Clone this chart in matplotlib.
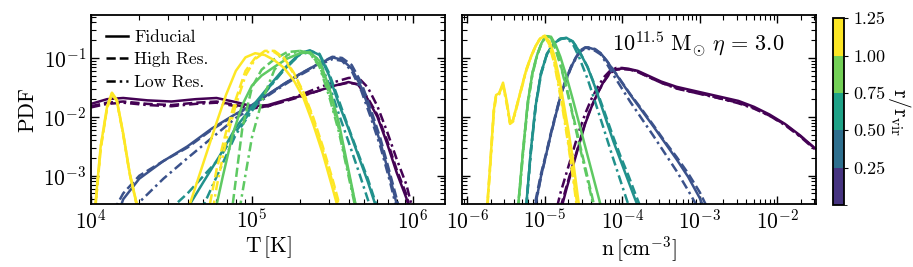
import numpy as np
import matplotlib
matplotlib.use("Agg")
import matplotlib.pyplot as plt
from matplotlib.colors import ListedColormap, BoundaryNorm
from matplotlib.cm import ScalarMappable
from matplotlib.lines import Line2D

plt.rcParams['font.family'] = 'serif'
plt.rcParams['font.serif'] = ['cmr10']
plt.rcParams['mathtext.fontset'] = 'cm'
plt.rcParams['axes.formatter.use_mathtext'] = True
plt.rcParams['axes.linewidth'] = 1.3

# r / r_vir of each shell
radii = [0.25, 0.5, 0.75, 1.0, 1.25]
cbar_bounds = [0.0, 0.25, 0.5, 0.75, 1.0, 1.25]
cbar_ticks = [0.25, 0.5, 0.75, 1.0, 1.25]

# ---- temperature PDFs (log10 T, log10 PDF) ----
logT_1 = [4.0, 4.1, 4.2, 4.35, 4.5, 4.65, 4.78, 4.9, 5.0, 5.1, 5.2, 5.3, 5.4, 5.5,
          5.6, 5.66, 5.72, 5.78, 5.84, 5.9, 5.96, 6.02]
pT_1_fid = [-1.78, -1.70, -1.68, -1.72, -1.74, -1.70, -1.68, -1.75, -1.82, -1.80, -1.72,
            -1.65, -1.57, -1.48, -1.41, -1.45, -1.70, -2.0, -2.45, -2.95, -3.38, -4.0]
pT_1_hi = [-1.82, -1.76, -1.74, -1.78, -1.80, -1.76, -1.74, -1.80, -1.85, -1.82, -1.74,
           -1.66, -1.57, -1.48, -1.42, -1.45, -1.68, -1.97, -2.40, -2.90, -3.32, -4.0]
pT_1_lo = [-1.84, -1.78, -1.76, -1.80, -1.82, -1.78, -1.76, -1.82, -1.86, -1.82, -1.73,
           -1.63, -1.52, -1.42, -1.34, -1.33, -1.50, -1.82, -2.25, -2.72, -3.15, -3.8]

logT_2 = [4.1, 4.2, 4.3, 4.45, 4.6, 4.75, 4.9, 5.0, 5.1, 5.2, 5.3, 5.4, 5.5, 5.56,
          5.62, 5.68, 5.74, 5.8, 5.86, 5.92]
pT_2_fid = [-4.2, -3.40, -3.05, -2.75, -2.50, -2.20, -1.95, -1.80, -1.62, -1.44, -1.27,
            -1.12, -0.99, -1.03, -1.18, -1.50, -1.95, -2.45, -3.05, -3.7]
pT_2_hi = [-3.8, -3.30, -3.0, -2.75, -2.52, -2.22, -1.96, -1.81, -1.62, -1.44, -1.27,
           -1.12, -0.98, -1.0, -1.12, -1.42, -1.88, -2.38, -2.98, -3.6]
pT_2_lo = [-4.5, -3.9, -3.45, -3.05, -2.70, -2.36, -2.02, -1.85, -1.64, -1.46, -1.29,
           -1.14, -1.02, -1.05, -1.22, -1.56, -2.02, -2.52, -3.12, -3.8]

logT_3 = [4.4, 4.5, 4.6, 4.7, 4.8, 4.9, 5.0, 5.1, 5.2, 5.3, 5.36, 5.42, 5.48, 5.54,
          5.6, 5.66, 5.72, 5.78, 5.84]
pT_3_fid = [-4.5, -4.0, -3.55, -3.1, -2.66, -2.18, -1.83, -1.50, -1.18, -0.92, -0.87,
            -0.95, -1.30, -1.78, -2.20, -2.65, -3.10, -3.60, -4.2]
pT_3_hi = [-4.0, -3.55, -3.3, -3.0, -2.7, -2.25, -1.88, -1.52, -1.2, -0.93, -0.88,
           -0.93, -1.26, -1.72, -2.18, -2.62, -3.05, -3.55, -4.1]
pT_3_lo = [-5.0, -4.5, -4.0, -3.5, -2.9, -2.3, -1.9, -1.53, -1.2, -0.94, -0.90,
           -1.05, -1.45, -1.95, -2.42, -2.90, -3.40, -3.90, -4.5]

logT_4 = [4.7, 4.76, 4.82, 4.88, 4.94, 5.0, 5.06, 5.14, 5.22, 5.3, 5.36, 5.42, 5.48,
          5.54, 5.6, 5.66, 5.72]
pT_4_fid = [-4.5, -3.75, -3.0, -2.3, -1.8, -1.47, -1.30, -1.15, -1.01, -0.92, -0.90,
            -1.05, -1.5, -2.1, -2.9, -3.7, -4.5]
pT_4_hi = [-5.5, -5.0, -4.3, -3.5, -2.2, -1.5, -1.2, -1.02, -0.9, -0.88, -0.92,
           -1.12, -1.6, -2.2, -2.95, -3.7, -4.5]
pT_4_lo = [-6.0, -5.5, -5.0, -4.3, -3.3, -2.35, -1.75, -1.2, -0.95, -0.88, -0.92,
           -1.15, -1.65, -2.25, -3.0, -3.75, -4.5]

logT_5 = [4.0, 4.03, 4.06, 4.1, 4.13, 4.16, 4.2, 4.24, 4.29, 4.35, 4.5, 4.6, 4.66,
          4.72, 4.78, 4.84, 4.9, 4.96, 5.02, 5.08, 5.14, 5.2, 5.26, 5.32, 5.38, 5.44,
          5.5, 5.56]
pT_5_fid = [-4.5, -3.4, -2.5, -1.82, -1.59, -1.71, -2.28, -2.95, -3.55, -5.0, -5.0,
            -3.6, -3.1, -2.6, -2.1, -1.62, -1.22, -0.99, -0.92, -0.95, -1.04, -1.17,
            -1.38, -1.68, -2.12, -2.62, -3.2, -3.8]
pT_5_hi = [-4.5, -3.45, -2.55, -1.85, -1.62, -1.73, -2.30, -2.97, -3.57, -5.0, -5.0,
           -5.0, -4.5, -3.75, -2.9, -2.25, -1.7, -1.22, -1.0, -0.88, -0.88, -1.0,
           -1.25, -1.58, -2.0, -2.5, -3.05, -3.65]
pT_5_lo = [-4.5, -3.45, -2.52, -1.84, -1.60, -1.72, -2.30, -2.96, -3.56, -5.0, -5.0,
           -5.5, -5.0, -4.2, -3.2, -2.4, -1.8, -1.3, -1.02, -0.9, -0.9, -1.02,
           -1.27, -1.6, -2.03, -2.55, -3.1, -3.7]

# ---- density PDFs (log10 n, log10 PDF) ----
logn_1 = [-4.90, -4.80, -4.72, -4.64, -4.56, -4.48, -4.40, -4.32, -4.24, -4.16, -4.08,
          -4.0, -3.9, -3.8, -3.65, -3.5, -3.3, -3.1, -2.9, -2.7, -2.5, -2.3, -2.1,
          -1.9, -1.7, -1.5]
pn_1_fid = [-4.3, -3.62, -3.22, -2.85, -2.48, -2.12, -1.84, -1.6, -1.40, -1.25, -1.19,
            -1.18, -1.19, -1.22, -1.31, -1.40, -1.49, -1.55, -1.61, -1.67, -1.73,
            -1.83, -1.96, -2.12, -2.32, -2.55]
pn_1_hi = [-4.2, -3.55, -3.18, -2.82, -2.46, -2.10, -1.83, -1.6, -1.41, -1.26, -1.20,
           -1.19, -1.20, -1.24, -1.33, -1.42, -1.51, -1.58, -1.63, -1.70, -1.76,
           -1.85, -1.98, -2.13, -2.33, -2.55]
pn_1_lo = [-3.85, -3.3, -2.95, -2.6, -2.25, -1.95, -1.7, -1.5, -1.33, -1.22, -1.17,
           -1.17, -1.19, -1.23, -1.33, -1.42, -1.52, -1.58, -1.64, -1.70, -1.77,
           -1.86, -1.98, -2.14, -2.34, -2.57]

logn_2 = [-5.20, -5.12, -5.05, -4.98, -4.92, -4.85, -4.79, -4.72, -4.66, -4.60, -4.54,
          -4.48, -4.42, -4.35, -4.28, -4.20, -4.10, -4.0, -3.9, -3.75, -3.6, -3.45,
          -3.3, -3.15, -3.0, -2.9, -2.8]
pn_2_fid = [-4.2, -3.48, -3.01, -2.62, -2.28, -1.92, -1.60, -1.35, -1.15, -1.0, -0.88,
            -0.83, -0.83, -0.86, -0.92, -1.05, -1.24, -1.43, -1.62, -1.89, -2.16,
            -2.44, -2.72, -3.02, -3.38, -3.7, -4.1]
pn_2_hi = [-4.1, -3.42, -2.97, -2.60, -2.26, -1.90, -1.59, -1.34, -1.14, -0.99, -0.87,
           -0.82, -0.82, -0.85, -0.92, -1.05, -1.23, -1.42, -1.61, -1.87, -2.14,
           -2.42, -2.68, -2.96, -3.28, -3.55, -3.9]
pn_2_lo = [-4.2, -3.5, -3.02, -2.63, -2.29, -1.93, -1.61, -1.36, -1.16, -1.01, -0.89,
           -0.84, -0.85, -0.88, -0.94, -1.1, -1.32, -1.53, -1.74, -2.03, -2.32,
           -2.62, -2.92, -3.25, -3.6, -3.95, -4.3]

logn_3 = [-5.30, -5.24, -5.18, -5.12, -5.05, -4.97, -4.88, -4.80, -4.72, -4.64, -4.56,
          -4.45, -4.35, -4.24, -4.12, -4.02, -3.92, -3.84, -3.76, -3.68]
pn_3_fid = [-4.2, -3.5, -2.56, -1.82, -1.26, -0.92, -0.75, -0.68, -0.66, -0.72, -0.88,
            -1.15, -1.5, -1.93, -2.4, -2.75, -3.1, -3.38, -3.65, -4.0]
pn_3_hi = [-4.2, -3.5, -2.56, -1.82, -1.26, -0.92, -0.75, -0.68, -0.66, -0.72, -0.87,
           -1.15, -1.48, -1.88, -2.33, -2.68, -3.0, -3.28, -3.55, -3.9]
pn_3_lo = [-4.3, -3.55, -2.6, -1.85, -1.28, -0.93, -0.75, -0.67, -0.66, -0.76, -0.98,
           -1.35, -1.75, -2.2, -2.7, -3.1, -3.5, -3.85, -4.2, -4.6]

logn_4 = [-5.40, -5.34, -5.28, -5.22, -5.16, -5.10, -5.04, -4.98, -4.92, -4.86, -4.80,
          -4.72, -4.64, -4.56, -4.48, -4.40, -4.32, -4.24, -4.16]
pn_4_fid = [-4.5, -3.44, -2.55, -1.75, -1.25, -0.95, -0.74, -0.63, -0.64, -0.78, -0.98,
            -1.32, -1.7, -2.1, -2.5, -2.9, -3.3, -3.7, -4.1]
pn_4_hi = [-4.5, -3.44, -2.55, -1.75, -1.25, -0.95, -0.74, -0.63, -0.66, -0.85, -1.1,
           -1.5, -1.95, -2.4, -2.85, -3.3, -3.75, -4.2, -4.6]
pn_4_lo = [-4.6, -3.5, -2.6, -1.8, -1.28, -0.96, -0.74, -0.62, -0.66, -0.86, -1.12,
           -1.52, -1.98, -2.45, -2.9, -3.35, -3.8, -4.25, -4.7]

logn_5 = [-5.80, -5.74, -5.70, -5.66, -5.63, -5.59, -5.54, -5.49, -5.45, -5.41, -5.36,
          -5.30, -5.24, -5.18, -5.12, -5.06, -5.00, -4.94, -4.88, -4.82, -4.76, -4.70,
          -4.64, -4.58, -4.52]
pn_5_fid = [-4.5, -3.44, -2.7, -1.9, -1.63, -1.6, -1.42, -1.75, -2.1, -2.05, -1.8, -1.5,
            -1.2, -0.98, -0.8, -0.67, -0.63, -0.72, -0.95, -1.3, -1.75, -2.2, -2.7,
            -3.3, -3.9]
pn_5_hi = [-4.5, -3.44, -2.7, -1.9, -1.63, -1.6, -1.45, -1.78, -2.1, -2.05, -1.8, -1.5,
           -1.2, -0.98, -0.8, -0.67, -0.63, -0.78, -1.05, -1.45, -1.9, -2.4, -2.95,
           -3.5, -4.1]
pn_5_lo = [-4.5, -3.5, -2.75, -1.95, -1.66, -1.62, -1.46, -1.8, -2.12, -2.08, -1.82,
           -1.52, -1.22, -0.99, -0.8, -0.66, -0.62, -0.80, -1.08, -1.5, -1.95, -2.45,
           -3.0, -3.6, -4.2]

temp_sets = [(logT_1, pT_1_fid, pT_1_hi, pT_1_lo),
             (logT_2, pT_2_fid, pT_2_hi, pT_2_lo),
             (logT_3, pT_3_fid, pT_3_hi, pT_3_lo),
             (logT_4, pT_4_fid, pT_4_hi, pT_4_lo),
             (logT_5, pT_5_fid, pT_5_hi, pT_5_lo)]
dens_sets = [(logn_1, pn_1_fid, pn_1_hi, pn_1_lo),
             (logn_2, pn_2_fid, pn_2_hi, pn_2_lo),
             (logn_3, pn_3_fid, pn_3_hi, pn_3_lo),
             (logn_4, pn_4_fid, pn_4_hi, pn_4_lo),
             (logn_5, pn_5_fid, pn_5_hi, pn_5_lo)]

run_labels = ['Fiducial', 'High Res.', 'Low Res.']
run_styles = ['-', '--', (0, (3.7, 1.6, 1.0, 1.6))]

line_colors = plt.cm.viridis(np.linspace(0, 1, len(radii)))
band_colors = plt.cm.viridis(np.linspace(0.15, 1, len(radii)))

fig = plt.figure(figsize=(9.13, 2.67), dpi=100)
ax1 = fig.add_axes([0.0997, 0.236, 0.3877, 0.708])
ax2 = fig.add_axes([0.506, 0.236, 0.3877, 0.708], sharey=ax1)
cax = fig.add_axes([0.9124, 0.232, 0.012, 0.70])

for ax, sets in [(ax1, temp_sets), (ax2, dens_sets)]:
    for col, (lx, *pdfs) in zip(line_colors, sets):
        for ly, ls in zip(pdfs, run_styles):
            ax.plot(10 ** np.array(lx), 10 ** np.array(ly), ls=ls, color=col, lw=1.8)

for ax in (ax1, ax2):
    ax.set_xscale('log')
    ax.set_yscale('log')
    ax.tick_params(which='both', direction='in', top=True, right=True, labelsize=15.5)
    ax.tick_params(which='major', length=6, width=1)
    ax.tick_params(which='minor', length=3.5, width=0.8)

ax1.set_xlim(1e4, 10 ** 6.2)
ax1.set_ylim(10 ** -3.48, 10 ** -0.27)
ax2.set_xlim(10 ** -6.07, 10 ** -1.5)
ax2.tick_params(labelleft=False)

ax1.set_xlabel(r'$\mathrm{T\,[K]}$', fontsize=15.5, labelpad=1)
ax1.set_ylabel('PDF', fontsize=15.5, labelpad=4)
ax2.set_xlabel(r'$\mathrm{n\,[cm^{-3}]}$', fontsize=15.5, labelpad=1)

handles = [Line2D([], [], color='k', ls=ls, lw=1.8) for ls in run_styles]
ax1.legend(handles, run_labels, loc='upper left', frameon=False, fontsize=12.5,
           handlelength=1.3, handletextpad=0.35, labelspacing=0.4,
           borderaxespad=0.45)

ax2.text(0.91, 0.85, r'$10^{11.5}\ \mathrm{M_{\odot}}\ \eta\, =\, 3.0$',
         transform=ax2.transAxes, ha='right', va='center', fontsize=16)

cmap = ListedColormap(band_colors)
norm = BoundaryNorm(cbar_bounds, cmap.N)
sm = ScalarMappable(norm=norm, cmap=cmap)
cb = fig.colorbar(sm, cax=cax, ticks=cbar_ticks)
cb.ax.set_yticklabels(['%.2f' % t for t in cbar_ticks])
cb.ax.tick_params(labelsize=13, length=3)
cb.outline.set_linewidth(1.3)
cb.set_label(r'$\mathrm{r/r_{vir}}$', fontsize=15.5, rotation=270, labelpad=20)

fig.savefig('out.png', dpi=100)
